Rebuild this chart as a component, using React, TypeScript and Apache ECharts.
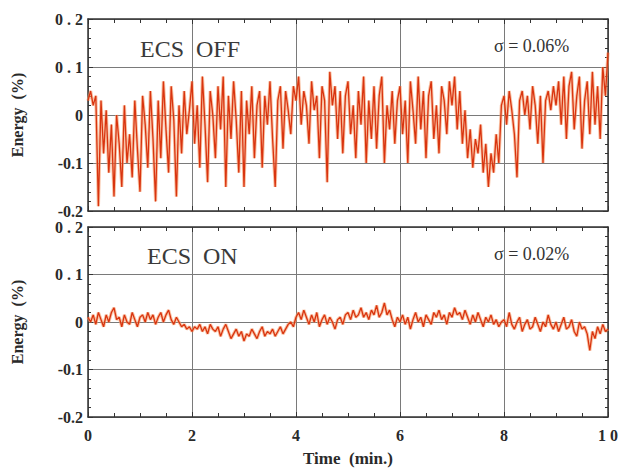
import React, { useEffect, useRef } from "react";
import * as echarts from "echarts";

// Sampling step of both records (minutes)
const STEP_MIN = 0.05;

// ECS OFF energy deviation (%), one value per 0.05 min, 0..10 min
const ecsOff: number[] = [
  0.03, 0.05, 0.02, 0.04, -0.19, 0.03, -0.08, 0.01, -0.12, -0.02, -0.17, 0.0, -0.06, -0.15, 0.02, -0.1, -0.04, -0.13, 0.03, -0.07,
  -0.16, 0.04, -0.02, -0.11, 0.05, -0.05, -0.18, 0.03, -0.09, 0.07, -0.03, -0.12, 0.06, -0.01, -0.17, 0.02, -0.08, 0.05, -0.04, 0.01,
  0.07, -0.06, 0.02, -0.11, 0.08, -0.02, -0.14, 0.05, 0.0, -0.09, 0.06, -0.03, 0.08, -0.15, 0.04, -0.05, 0.07, -0.01, -0.12, 0.05,
  -0.15, 0.03, -0.04, 0.06, -0.09, 0.02, 0.05, -0.11, 0.04, -0.02, 0.07, -0.05, -0.15, 0.03, 0.06, -0.07, 0.05, 0.01, -0.04, 0.06,
  0.03, 0.08, -0.02, 0.05, 0.02, -0.06, 0.07, 0.01, 0.04, -0.09, 0.06, 0.03, -0.14, 0.09, 0.02, 0.06, -0.05, 0.05, -0.08, 0.04,
  0.07, -0.04, 0.02, -0.09, 0.05, -0.02, 0.08, -0.1, 0.03, -0.05, 0.06, -0.07, 0.04, 0.08, -0.1, 0.02, -0.03, 0.05, -0.06, 0.03,
  0.06, -0.04, 0.03, -0.1, 0.07, 0.01, -0.06, 0.08, -0.03, 0.05, -0.09, 0.04, 0.07, -0.05, 0.02, -0.08, 0.06, 0.03, -0.04, 0.07,
  0.02, 0.08, -0.03, 0.05, -0.06, 0.01, -0.09, -0.03, -0.11, -0.05, -0.08, -0.02, -0.12, -0.06, -0.15, -0.08, -0.12, -0.04, -0.1, 0.02,
  0.04, -0.02, 0.05, 0.01, -0.04, -0.13, 0.03, 0.05, 0.0, 0.04, -0.03, 0.06, 0.02, -0.06, 0.04, -0.1, 0.03, 0.05, 0.01, 0.06,
  0.02, 0.07, -0.02, 0.08, -0.05, 0.06, 0.09, -0.03, 0.04, 0.08, -0.07, 0.03, 0.07, -0.04, 0.09, -0.02, 0.06, -0.05, 0.1, 0.04,
  0.13,
];

// ECS ON energy deviation (%), one value per 0.05 min, 0..10 min
const ecsOn: number[] = [
  0.01, 0.0, 0.015, -0.005, 0.02, 0.005, -0.01, 0.015, 0.0, 0.02, 0.03, 0.005, 0.01, -0.01, 0.015, 0.0, -0.005, 0.02, 0.005, -0.01,
  0.01, 0.015, 0.0, 0.02, 0.005, 0.015, -0.005, 0.01, 0.02, 0.0, 0.015, 0.025, 0.005, -0.005, 0.01, 0.0, -0.01, -0.005, -0.015, -0.01,
  -0.02, -0.01, -0.015, -0.005, -0.02, -0.01, -0.025, -0.005, -0.015, -0.02, -0.01, -0.03, -0.015, -0.005, -0.02, -0.035, -0.025, -0.015, -0.03, -0.02,
  -0.04, -0.025, -0.03, -0.015, -0.025, -0.035, -0.02, -0.01, -0.03, -0.02, -0.025, -0.015, -0.03, -0.02, -0.01, -0.025, -0.015, -0.005, 0.0, -0.01,
  0.01, 0.02, 0.005, 0.025, 0.01, -0.005, 0.015, 0.0, 0.02, -0.01, 0.005, 0.015, -0.005, 0.01, 0.0, -0.015, 0.005, 0.01, -0.005, 0.015,
  0.02, 0.005, 0.025, 0.01, 0.015, 0.03, 0.01, 0.02, 0.005, 0.025, 0.015, 0.035, 0.01, 0.02, 0.04, 0.015, 0.025, 0.005, -0.01, 0.01,
  0.0, 0.015, -0.005, 0.01, -0.015, 0.005, 0.02, 0.0, 0.01, -0.01, 0.015, 0.005, -0.005, 0.02, 0.01, 0.025, 0.005, 0.015, -0.005, 0.02,
  0.01, 0.03, 0.015, 0.02, 0.005, 0.025, 0.01, -0.005, 0.015, 0.0, 0.02, 0.005, -0.01, 0.01, 0.0, 0.015, -0.005, 0.005, -0.01, 0.0,
  0.005, -0.01, 0.02, -0.005, -0.015, 0.0, 0.01, -0.02, -0.005, 0.005, -0.015, -0.01, 0.01, -0.005, -0.02, 0.0, -0.01, 0.015, -0.005, -0.015,
  0.0, -0.02, -0.005, 0.01, -0.015, -0.01, 0.005, -0.02, -0.03, 0.0, -0.015, -0.01, -0.025, -0.06, -0.02, -0.035, -0.01, -0.025, -0.005, -0.02,
  -0.015,
];

const xTickLabels: Record<string, string> = { "0": "0", "2": "2", "4": "4", "6": "6", "8": "8", "10": "1 0" };
const yTickLabels: Record<string, string> = { "0.2": "0 . 2", "0.1": "0 . 1", "0": "0", "-0.1": "-0.1", "-0.2": "-0.2" };

const panelTitles = ["ECS  OFF", "ECS  ON"];
const sigmaLabels = ["\u03c3 = 0.06%", "\u03c3 = 0.02%"];

const FONT = "'Liberation Serif', 'DejaVu Serif', serif";
const LINE_COLOR = "#d9340f";
const HALO_COLOR = "#f59866";

export default function App() {
  const ref = useRef<HTMLDivElement>(null);

  useEffect(() => {
    if (!ref.current) return;
    const chart = echarts.init(ref.current, undefined, { renderer: "svg" });

    const grids = [
      { left: 88, top: 19, width: 520, height: 192 },
      { left: 88, top: 227, width: 520, height: 190 },
    ];

    const fmtY = (v: number) => {
      const k = String(Math.round(v * 10) / 10);
      return yTickLabels[k] ?? k;
    };
    const fmtX = (v: number) => xTickLabels[String(v)] ?? String(v);

    const xAxes: any[] = [];
    const yAxes: any[] = [];
    grids.forEach((_, gi) => {
      const isBottom = gi === 1;
      xAxes.push({
        type: "value",
        gridIndex: gi,
        min: 0,
        max: 10,
        interval: 2,
        position: "bottom",
        name: isBottom ? "Time  (min.)" : "",
        nameLocation: "middle",
        nameGap: 33,
        nameTextStyle: { fontFamily: FONT, fontWeight: "bold", fontSize: 17, color: "#2a2a2a" },
        axisLine: { show: true, onZero: false, lineStyle: { color: "#333", width: 1.5 } },
        axisTick: { show: true, inside: true, length: 5, lineStyle: { color: "#333" } },
        minorTick: { show: true, splitNumber: 4, length: 4, lineStyle: { color: "#333" } },
        axisLabel: {
          show: isBottom,
          formatter: fmtX,
          fontFamily: FONT,
          fontWeight: "bold",
          fontSize: 16,
          color: "#2a2a2a",
          margin: 10,
        },
        splitLine: { show: true, lineStyle: { color: "#7a7a7a", width: 1 } },
      });
      xAxes.push({
        type: "value",
        gridIndex: gi,
        min: 0,
        max: 10,
        interval: 2,
        position: "top",
        axisLine: { show: true, onZero: false, lineStyle: { color: "#333", width: 1.5 } },
        axisTick: { show: true, inside: true, length: 5, lineStyle: { color: "#333" } },
        minorTick: { show: true, splitNumber: 4, length: 4, lineStyle: { color: "#333" } },
        axisLabel: { show: false },
        splitLine: { show: false },
      });
      yAxes.push({
        type: "value",
        gridIndex: gi,
        min: -0.2,
        max: 0.2,
        interval: 0.1,
        position: "left",
        name: "Energy  (%)",
        nameLocation: "middle",
        nameGap: 63,
        nameRotate: 90,
        nameTextStyle: { fontFamily: FONT, fontWeight: "bold", fontSize: 16, color: "#2a2a2a" },
        axisLine: { show: true, onZero: false, lineStyle: { color: "#333", width: 1.5 } },
        axisTick: { show: true, inside: true, length: 5, lineStyle: { color: "#333" } },
        minorTick: { show: true, splitNumber: 5, length: 3, lineStyle: { color: "#333" } },
        axisLabel: {
          formatter: fmtY,
          fontFamily: FONT,
          fontWeight: "bold",
          fontSize: 16,
          color: "#2a2a2a",
          margin: 5,
        },
        splitLine: { show: true, lineStyle: { color: "#7a7a7a", width: 1 } },
      });
      yAxes.push({
        type: "value",
        gridIndex: gi,
        min: -0.2,
        max: 0.2,
        interval: 0.1,
        position: "right",
        axisLine: { show: true, onZero: false, lineStyle: { color: "#333", width: 1.5 } },
        axisTick: { show: true, inside: true, length: 5, lineStyle: { color: "#333" } },
        minorTick: { show: true, splitNumber: 5, length: 3, lineStyle: { color: "#333" } },
        axisLabel: { show: false },
        splitLine: { show: false },
      });
    });

    const toPairs = (arr: number[]) => arr.map((v, i) => [+(i * STEP_MIN).toFixed(2), v]);

    const series: any[] = [];
    [ecsOff, ecsOn].forEach((arr, gi) => {
      const data = toPairs(arr);
      series.push({
        type: "line",
        name: panelTitles[gi] + " halo",
        xAxisIndex: gi * 2,
        yAxisIndex: gi * 2,
        data,
        showSymbol: false,
        symbol: "none",
        silent: true,
        lineStyle: { color: HALO_COLOR, width: 3.2, opacity: 0.6 },
        z: 2,
      });
      series.push({
        type: "line",
        name: panelTitles[gi],
        xAxisIndex: gi * 2,
        yAxisIndex: gi * 2,
        data,
        showSymbol: false,
        symbol: "none",
        lineStyle: { color: LINE_COLOR, width: 1.3 },
        z: 3,
      });
    });

    const graphic: any[] = [];
    const titleX = [140, 147];
    const titleY = [50, 257];
    const sigmaY = [47, 255];
    panelTitles.forEach((t, i) => {
      graphic.push({
        type: "text",
        left: titleX[i],
        top: titleY[i] - 13,
        style: { text: t, fontFamily: FONT, fontSize: 24, fill: "#3a3a3a" },
        z: 10,
      });
      graphic.push({
        type: "text",
        left: 494,
        top: sigmaY[i] - 10,
        style: { text: sigmaLabels[i], fontFamily: FONT, fontSize: 18, fill: "#333" },
        z: 10,
      });
    });

    chart.setOption({
      animation: false,
      backgroundColor: "#ffffff",
      grid: grids.map((g) => ({ ...g, show: false, containLabel: false })),
      xAxis: xAxes,
      yAxis: yAxes,
      series,
      graphic,
    });

    return () => chart.dispose();
  }, []);

  return (
    <div
      ref={ref}
      style={{ position: "fixed", left: 0, top: 0, width: 626, height: 468, background: "#fff" }}
    />
  );
}
